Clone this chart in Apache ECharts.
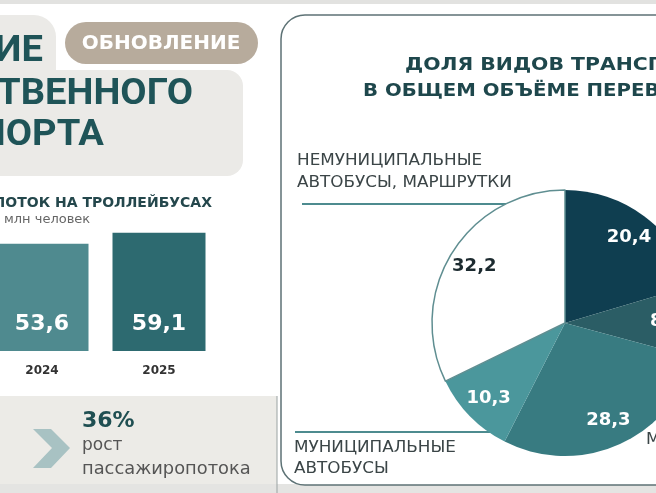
<!DOCTYPE html>
<html><head><meta charset="utf-8">
<script src="https://cdn.jsdelivr.net/npm/echarts@6/dist/echarts.min.js"></script>
<style>html,body{margin:0;padding:0;background:#fff}#c{width:656px;height:493px}</style>
</head><body><div id="c"></div>
<script>
// ---- data ----
const barYears = ['2024', '2025'];
const barValues = [53.6, 59.1];
const pieNames = ['Трамваи', 'Троллейбусы', 'Метро', 'Муниципальные автобусы', 'Немуниципальные автобусы, маршрутки'];
const pieValues = [20.4, 8.8, 28.3, 10.3, 32.2];
const growthText = '36%';

// ---- styles ----
const barColors = ['#4f8a8f', '#2d6a70'];
const pieColors = ['#0f3e50', '#2b5d65', '#387b81', '#4b979c', '#ffffff'];
const pieLabelColors = ['#ffffff', '#ffffff', '#ffffff', '#ffffff', '#1c2a2f'];
const pieLabelOffsets = [[0, 0], [-6, 0], [0, 0], [0, 0], [0, 0]];
const fmt = v => String(v).replace('.', ',');
const TEAL = '#1f5458';

const chart = echarts.init(document.getElementById('c'), null, {renderer: 'canvas'});

function txt(x, y, text, font, fill, align, sx) {
  return {type: 'text', x: x, y: y, scaleX: sx || 1, z: 5,
    style: {text: text, x: 0, y: 0, font: font, fill: fill, textAlign: align || 'left', textVerticalAlign: 'middle'}};
}

const graphics = [
  {type: 'rect', shape: {x: 0, y: 0, width: 656, height: 4}, style: {fill: '#e2e2e0'}, z: 0},
  {type: 'rect', shape: {x: -30, y: 15, width: 86, height: 110, r: 22}, style: {fill: '#ebeae7'}, z: 0},
  {type: 'rect', shape: {x: -30, y: 70, width: 273, height: 106, r: 16}, style: {fill: '#ebeae7'}, z: 0},
  {type: 'rect', shape: {x: 65, y: 22, width: 193, height: 42, r: 21}, style: {fill: '#b7ab9c'}, z: 1},
  txt(161, 44, 'ОБНОВЛЕНИЕ', 'bold 20px "DejaVu Sans"', '#ffffff', 'center', 1),
  txt(43, 52, 'РАЗВИТИЕ', 'bold 36px Roboto', TEAL, 'right', 1.06),
  txt(193, 95, 'ОБЩЕСТВЕННОГО', 'bold 36px Roboto', TEAL, 'right', 1.06),
  txt(104, 136, 'ТРАНСПОРТА', 'bold 36px Roboto', TEAL, 'right', 1.06),
  txt(212, 203, 'ПАССАЖИРОПОТОК НА ТРОЛЛЕЙБУСАХ', 'bold 14px "DejaVu Sans"', '#24474c', 'right', 1),
  txt(4, 220, 'млн человек', '13px "DejaVu Sans"', '#666666', 'left', 1),
  {type: 'rect', shape: {x: 0, y: 396, width: 277, height: 97}, style: {fill: '#ecebe7'}, z: 0},
  {type: 'line', shape: {x1: 277, y1: 396, x2: 277, y2: 493}, style: {stroke: '#9aa2a2', lineWidth: 1}, z: 1},
  {type: 'polygon', shape: {points: [[33, 429], [51, 429], [70, 448], [51, 468], [33, 468], [52, 448]]}, style: {fill: '#a8c2c3'}, z: 1},
  txt(82, 421, growthText, 'bold 22px "DejaVu Sans"', '#1f4f52', 'left', 1),
  txt(82, 446, 'рост', '17px "DejaVu Sans"', '#555555', 'left', 1),
  txt(82, 470, 'пассажиропотока', '17px "DejaVu Sans"', '#555555', 'left', 1.05),
  {type: 'rect', shape: {x: 0, y: 484, width: 656, height: 9}, style: {fill: '#e4e4e2'}, z: 0},
  {type: 'rect', shape: {x: 281, y: 15, width: 420, height: 470, r: 24}, style: {fill: '#ffffff', stroke: '#5d7275', lineWidth: 1.5}, z: 0},
  txt(405, 66, 'ДОЛЯ ВИДОВ ТРАНСПОРТА', 'bold 17px "DejaVu Sans"', '#1e474c', 'left', 1.2),
  txt(363, 92, 'В ОБЩЕМ ОБЪЁМЕ ПЕРЕВОЗОК', 'bold 17px "DejaVu Sans"', '#1e474c', 'left', 1.16),
  txt(297, 161, 'НЕМУНИЦИПАЛЬНЫЕ', '15px "DejaVu Sans"', '#3b4547', 'left', 1.12),
  txt(297, 183, 'АВТОБУСЫ, МАРШРУТКИ', '15px "DejaVu Sans"', '#3b4547', 'left', 1.12),
  {type: 'line', shape: {x1: 302, y1: 204, x2: 520, y2: 204}, style: {stroke: '#4d8b8f', lineWidth: 2}, z: 1},
  {type: 'line', shape: {x1: 295, y1: 432, x2: 495, y2: 432}, style: {stroke: '#4d8b8f', lineWidth: 2}, z: 1},
  txt(294, 448, 'МУНИЦИПАЛЬНЫЕ', '15px "DejaVu Sans"', '#3b4547', 'left', 1.12),
  txt(294, 469, 'АВТОБУСЫ', '15px "DejaVu Sans"', '#3b4547', 'left', 1.12),
  txt(646, 440, 'МЕТРО', '15px "DejaVu Sans"', '#3b4547', 'left', 1.12)
];

const option = {
  backgroundColor: '#ffffff',
  animation: false,
  graphic: {elements: graphics},
  grid: {left: 42, width: 117, top: 211, height: 140},
  xAxis: {type: 'category', data: barYears, boundaryGap: false,
    axisLine: {show: false}, axisTick: {show: false}, splitLine: {show: false},
    axisLabel: {color: '#333333', fontWeight: 'bold', fontSize: 12, margin: 14, fontFamily: 'DejaVu Sans'}},
  yAxis: {type: 'value', min: 0, max: 70, show: false},
  series: [
    {type: 'bar', barWidth: 93, z: 3, clip: false,
      data: barValues.map((v, i) => ({value: v, itemStyle: {color: barColors[i]}})),
      label: {show: true, position: 'insideBottom', distance: 16, color: '#ffffff', fontSize: 22, fontWeight: 'bold',
        fontFamily: 'DejaVu Sans', formatter: p => fmt(p.value)}},
    {type: 'pie', center: [565, 323], radius: 133, startAngle: 90, clockwise: true, z: 3,
      silent: true, label: {show: false}, labelLine: {show: false},
      data: pieValues.map((v, i) => ({name: pieNames[i], value: v,
        itemStyle: {color: pieColors[i], borderColor: i === 4 ? '#5f8e91' : pieColors[i], borderWidth: i === 4 ? 1.5 : 0}}))},
    {type: 'pie', center: [565, 323], radius: [75, 133], startAngle: 90, clockwise: true, z: 4,
      silent: true, labelLine: {show: false},
      label: {show: true, position: 'inside', fontSize: 18, fontWeight: 'bold', fontFamily: 'DejaVu Sans',
        formatter: p => fmt(p.value)},
      data: pieValues.map((v, i) => ({name: pieNames[i], value: v,
        itemStyle: {color: 'rgba(0,0,0,0)'}, label: {color: pieLabelColors[i], offset: pieLabelOffsets[i]}}))}
  ]
};
chart.setOption(option);
</script></body></html>
